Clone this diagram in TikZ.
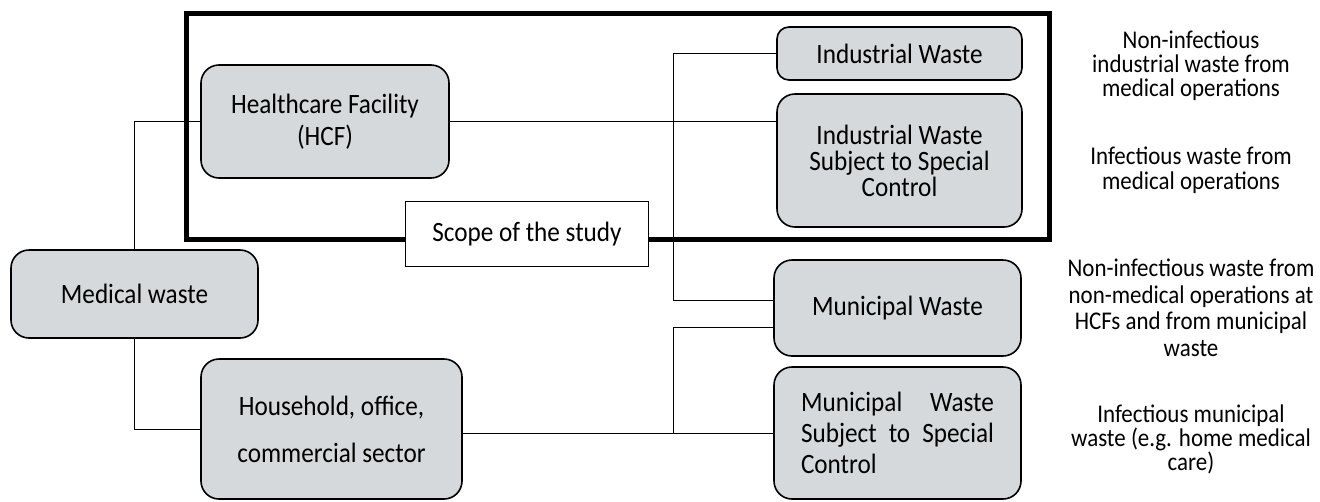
\documentclass[tikz,border=0pt]{standalone}
\usepackage{fontspec}
\setmainfont{Carlito}[FakeStretch=0.9]
\usetikzlibrary{positioning}
\usetikzlibrary{calc}
\definecolor{boxgray}{RGB}{213,217,220}
\tikzset{
  wastebox/.style={draw, line width=1.6pt, rounded corners=18pt, fill=boxgray, align=center, inner sep=0pt},
  notetext/.style={align=center},
  link/.style={line width=0.9pt},
}
\newcommand\boxsize[1]{\fontsize{28}{#1}\selectfont}
\newcommand\notesize[1]{\fontsize{25.5}{#1}\selectfont}

\begin{document}
\begin{tikzpicture}[x=1pt, y=-1pt]
  \useasboundingbox (0,0) rectangle (1320,501);

  \draw [line width=5pt] (186.5,13.5) rectangle (1049.5,239);

  \node [wastebox, minimum width=247pt, minimum height=88pt, font=\boxsize{30}] (medical) at (134.5,294) {Medical waste};
  \node [wastebox, minimum width=248pt, minimum height=113pt, font=\boxsize{32}] (hcf) at (325,121.5) {Healthcare Facility\\(HCF)};
  \node [wastebox, minimum width=261pt, minimum height=140pt, font=\boxsize{47}] (household) at (331.5,429) {Household, office,\\commercial sector};
  \node [wastebox, rounded corners=12pt, minimum width=245pt, minimum height=53pt, font=\boxsize{30}] (indus) at (899.5,53.5) {Industrial Waste};
  \node [wastebox, minimum width=245pt, minimum height=133pt, font=\boxsize{26}] (indusctrl) at (899.5,160.5) {Industrial Waste\\Subject to Special\\Control};
  \node [wastebox, minimum width=247pt, minimum height=96pt, font=\boxsize{30}] (muni) at (897.5,308) {Municipal Waste};
  \node [wastebox, minimum width=247pt, minimum height=132pt, text width=193pt, align=left, font=\boxsize{31}] (munictrl) at (897.5,433) {Municipal\hfill Waste\\Subject\hfill to\hfill Special\\Control};

  \node [draw, line width=1.6pt, fill=white, minimum width=243pt, minimum height=65pt, font=\boxsize{30}] (scope) at (527,234) {Scope of the study};

  \node [notetext, font=\notesize{24}] (note1) at (1191,66) {Non-infectious\\industrial waste from\\medical operations};
  \node [notetext, font=\notesize{25}] (note2) at (1191,170) {Infectious waste from\\medical operations};
  \node [notetext, font=\notesize{26.5}] (note3) at (1191,308) {Non-infectious waste from\\non-medical operations at\\HCFs and from municipal\\waste};
  \node [notetext, font=\notesize{24}] (note4) at (1191,439) {Infectious municipal\\waste (e.g. home medical\\care)};

  \coordinate (split) at (673,0);
  \coordinate (munitop) at ([yshift=8pt]muni.west);
  \coordinate (munilow) at ([yshift=-19pt]muni.west);

  \draw [link] (medical.north) |- (hcf.west);
  \draw [link] (medical.south) |- (household.west);
  \draw [link] (hcf.east) -- (hcf.east -| indusctrl.west);
  \draw [link] (indus.west) -| (split |- munitop) -- (munitop);
  \draw [link] (munictrl.west -| household.east) -- (munictrl.west);
  \draw [link] (split |- munictrl.west) |- (munilow);
\end{tikzpicture}
\end{document}
